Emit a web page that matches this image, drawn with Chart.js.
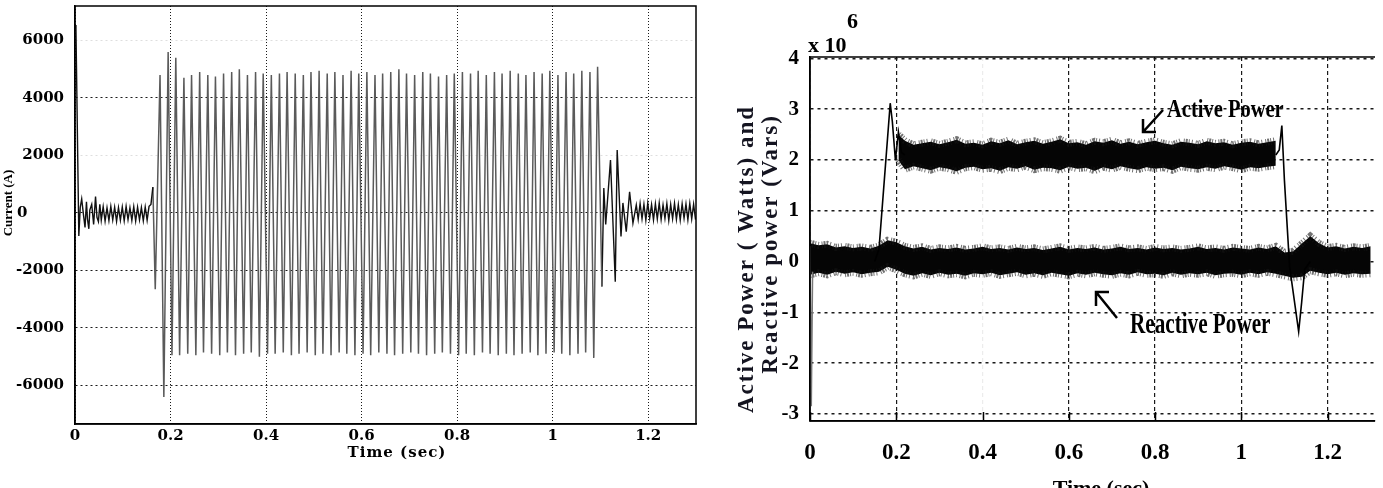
<!DOCTYPE html>
<html>
<head>
<meta charset="utf-8">
<script src="https://cdn.jsdelivr.net/npm/chart.js@4.4.1/dist/chart.umd.min.js"></script>
<style>
  html, body { margin: 0; padding: 0; background: #fff; }
  body { width: 1383px; height: 488px; position: relative; overflow: hidden; }
  .panel { position: absolute; top: 0; }
  #currentPanel { left: 0; }
  #powerPanel { left: 700px; }
</style>
</head>
<body>
<div class="panel" id="currentPanel"><canvas id="currentChart" width="700" height="488"></canvas></div>
<div class="panel" id="powerPanel"><canvas id="powerChart" width="683" height="488"></canvas></div>
<script>
// ---- left panel: fault current (A) ----
const preFaultTime = [
    0.000, 0.002, 0.008, 0.011, 0.014, 0.018, 0.021, 0.024, 0.026, 0.029,
    0.031, 0.035, 0.039, 0.043, 0.046, 0.049, 0.052, 0.055, 0.059, 0.063,
    0.067, 0.071, 0.075, 0.079, 0.083, 0.087, 0.091, 0.095, 0.099, 0.103,
    0.107, 0.111, 0.115, 0.119, 0.123, 0.127, 0.131, 0.135, 0.139, 0.143,
    0.147, 0.151, 0.155, 0.159, 0.163
];
const preFaultAmp = [
    6540, 6400, -800, 200, 490, -100, -500, 390, -200, -550,
    100, 300, -400, 570, -150, -300, 300, -250, 220, -280,
    180, -260, 230, -240, 200, -290, 190, -250, 210, -270,
    230, -230, 180, -260, 220, -280, 200, -240, 190, -270,
    210, -250, 230, 300, 900
];
const faultTime = [
    0.163, 0.168, 0.178, 0.186, 0.195, 0.203,
    0.211, 0.219, 0.228, 0.236, 0.244, 0.253, 0.261, 0.269, 0.278, 0.286, 0.294, 0.303,
    0.311, 0.319, 0.328, 0.336, 0.344, 0.353, 0.361, 0.369, 0.378, 0.386, 0.394, 0.403,
    0.411, 0.419, 0.428, 0.436, 0.444, 0.453, 0.461, 0.469, 0.478, 0.486, 0.494, 0.503,
    0.511, 0.519, 0.528, 0.536, 0.544, 0.553, 0.561, 0.569, 0.578, 0.586, 0.594, 0.603,
    0.611, 0.619, 0.628, 0.636, 0.644, 0.653, 0.661, 0.669, 0.678, 0.686, 0.694, 0.703,
    0.711, 0.719, 0.728, 0.736, 0.744, 0.753, 0.761, 0.769, 0.778, 0.786, 0.794, 0.803,
    0.811, 0.819, 0.828, 0.836, 0.844, 0.853, 0.861, 0.869, 0.878, 0.886, 0.894, 0.903,
    0.911, 0.919, 0.928, 0.936, 0.944, 0.953, 0.961, 0.969, 0.978, 0.986, 0.994, 1.003,
    1.011, 1.019, 1.028, 1.036, 1.044, 1.053, 1.061, 1.069, 1.078, 1.086, 1.094, 1.103
];
const faultAmp = [
    900, -2650, 4800, -6400, 5600, -4950,
    5400, -4950, 4700, -4900, 4800, -4950, 4900, -4850, 4800, -4900, 4750, -4950,
    4850, -4850, 4900, -4950, 5000, -4900, 4800, -4850, 4900, -5000, 4850, -4900,
    4800, -4900, 4850, -4850, 4900, -4950, 4850, -4900, 4800, -4850, 4900, -4950,
    4950, -4900, 4850, -4950, 4900, -4850, 4800, -4900, 4950, -4950, 4850, -4900,
    4900, -4950, 4800, -4850, 4850, -4900, 4900, -4950, 5000, -4900, 4850, -4850,
    4800, -4900, 4900, -4950, 4850, -4900, 4750, -4850, 4800, -4900, 4850, -4950,
    4900, -4900, 4850, -4950, 4950, -4850, 4800, -4900, 4900, -4950, 4850, -4900,
    4950, -4950, 4850, -4900, 4800, -4850, 4900, -4950, 4850, -4900, 4950, -4850,
    4800, -4900, 4900, -4950, 4850, -4900, 4950, -4850, 4900, -5040, 5090, -2560
];
const postFaultTime = [
    1.103, 1.107, 1.111, 1.121, 1.131, 1.135, 1.143, 1.147, 1.154, 1.161,
    1.168, 1.175, 1.179, 1.183, 1.187, 1.191, 1.195, 1.199, 1.203, 1.207,
    1.211, 1.215, 1.219, 1.223, 1.227, 1.231, 1.235, 1.239, 1.243, 1.247,
    1.251, 1.255, 1.259, 1.263, 1.267, 1.271, 1.275, 1.279, 1.283, 1.287,
    1.291, 1.295, 1.299
];
const postFaultAmp = [
    -2560, 870, -400, 1840, -2390, 2190, -820, 350, -650, 740,
    -350, 280, -220, 330, -200, 300, -250, 340, -180, 290,
    -240, 320, -210, 350, -230, 280, -190, 330, -260, 300,
    -200, 340, -220, 290, -250, 320, -180, 310, -240, 330,
    -210, 300, -230
];
const currentTicksX = [0, 0.2, 0.4, 0.6, 0.8, 1, 1.2];
const currentTicksY = [-6000, -4000, -2000, 0, 2000, 4000, 6000];

// ---- right panel: power (x 10^6) ----
const activeRiseTime = [0.150, 0.160, 0.175, 0.186, 0.191, 0.198, 0.205, 0.212, 0.220];
const activeRise = [0.00, 0.25, 1.90, 3.12, 2.75, 2.00, 2.55, 2.15, 2.10];
const activeFallTime = [1.080, 1.088, 1.094, 1.100, 1.112, 1.133, 1.140, 1.147, 1.160];
const activeFall = [2.10, 2.20, 2.68, 1.60, -0.10, -1.38, -0.80, -0.15, 0.00];
const activeBandTime = [
    0.205, 0.22, 0.24, 0.26, 0.28, 0.30, 0.32, 0.34, 0.36, 0.38, 0.40,
    0.42, 0.44, 0.46, 0.48, 0.50, 0.52, 0.54, 0.56, 0.58, 0.60,
    0.62, 0.64, 0.66, 0.68, 0.70, 0.72, 0.74, 0.76, 0.78, 0.80,
    0.82, 0.84, 0.86, 0.88, 0.90, 0.92, 0.94, 0.96, 0.98, 1.00,
    1.02, 1.04, 1.06, 1.08
];
const activeBandTop = [
    2.50, 2.38, 2.30, 2.33, 2.36, 2.31, 2.35, 2.40, 2.32, 2.34, 2.30,
    2.37, 2.33, 2.39, 2.31, 2.35, 2.38, 2.32, 2.36, 2.41, 2.33,
    2.35, 2.30, 2.37, 2.34, 2.39, 2.32, 2.36, 2.31, 2.35, 2.38,
    2.33, 2.30, 2.36, 2.34, 2.31, 2.37, 2.33, 2.35, 2.30, 2.34,
    2.36, 2.32, 2.35, 2.38
];
const activeBandBottom = [
    2.00, 1.82, 1.88, 1.84, 1.80, 1.86, 1.83, 1.78, 1.85, 1.87, 1.82,
    1.84, 1.79, 1.86, 1.83, 1.88, 1.81, 1.85, 1.84, 1.80, 1.87,
    1.83, 1.85, 1.79, 1.86, 1.82, 1.88, 1.84, 1.81, 1.86, 1.83,
    1.85, 1.80, 1.87, 1.84, 1.82, 1.86, 1.83, 1.88, 1.85, 1.81,
    1.86, 1.84, 1.87, 1.89
];
const reactiveBandTime = [
    0.00, 0.02, 0.04, 0.06, 0.08, 0.10, 0.12, 0.14, 0.16, 0.18,
    0.20, 0.22, 0.24, 0.26, 0.28, 0.30, 0.32, 0.34, 0.36, 0.38,
    0.40, 0.42, 0.44, 0.46, 0.48, 0.50, 0.52, 0.54, 0.56, 0.58,
    0.60, 0.62, 0.64, 0.66, 0.68, 0.70, 0.72, 0.74, 0.76, 0.78,
    0.80, 0.82, 0.84, 0.86, 0.88, 0.90, 0.92, 0.94, 0.96, 0.98,
    1.00, 1.02, 1.04, 1.06, 1.08, 1.10, 1.12, 1.14, 1.16, 1.18,
    1.20, 1.22, 1.24, 1.26, 1.28, 1.30
];
const reactiveBandTop = [
    0.36, 0.32, 0.34, 0.28, 0.30, 0.27, 0.29, 0.26, 0.31, 0.42,
    0.38, 0.30, 0.26, 0.29, 0.24, 0.27, 0.25, 0.28, 0.24, 0.26,
    0.29, 0.25, 0.27, 0.24, 0.28, 0.25, 0.27, 0.23, 0.26, 0.29,
    0.24, 0.27, 0.25, 0.28, 0.24, 0.26, 0.29, 0.25, 0.27, 0.24,
    0.28, 0.25, 0.27, 0.24, 0.26, 0.29, 0.25, 0.27, 0.24, 0.28,
    0.26, 0.24, 0.28, 0.25, 0.30, 0.18, 0.20, 0.35, 0.50, 0.36,
    0.28, 0.30, 0.26, 0.29, 0.27, 0.30
];
const reactiveBandBottom = [
    -0.26, -0.22, -0.26, -0.20, -0.24, -0.21, -0.25, -0.22, -0.20, -0.10,
    -0.16, -0.24, -0.28, -0.23, -0.27, -0.22, -0.26, -0.24, -0.28, -0.23,
    -0.25, -0.22, -0.27, -0.24, -0.21, -0.26, -0.23, -0.27, -0.22, -0.25,
    -0.28, -0.23, -0.26, -0.22, -0.25, -0.27, -0.23, -0.26, -0.21, -0.25,
    -0.24, -0.27, -0.22, -0.26, -0.23, -0.25, -0.22, -0.27, -0.24, -0.23,
    -0.26, -0.22, -0.25, -0.21, -0.24, -0.28, -0.32, -0.30, -0.18, -0.22,
    -0.25, -0.22, -0.26, -0.23, -0.25, -0.24
];
const startSpikeTime = [0.000, 0.003, 0.006];
const startSpike = [0.30, -2.85, -0.20];
const powerTicksX = [0, 0.2, 0.4, 0.6, 0.8, 1, 1.2];
const powerTicksY = [-3, -2, -1, 0, 1, 2, 3, 4];

function toPoints(xs, ys) {
    return xs.map((x, i) => ({ x: x, y: ys[i] }));
}

function fixedTicks(values) {
    return scale => { scale.ticks = values.map(value => ({ value })); };
}

// stop chart.js from reserving room for half-labels at the axis ends
function fitTo(size) {
    return scale => {
        if (scale.isHorizontal()) {
            scale.height = size;
        } else {
            scale.width = size;
        }
        scale.paddingTop = 0;
        scale.paddingBottom = 0;
        scale.paddingLeft = 0;
        scale.paddingRight = 0;
    };
}

const nearly = (a, b) => Math.abs(a - b) < 1e-6;

// box, axis titles for the current plot
const currentDecor = {
    id: 'currentDecor',
    afterDraw(chart) {
        const { ctx, chartArea: a } = chart;
        ctx.save();
        ctx.strokeStyle = '#000';
        ctx.lineWidth = 1.5;
        ctx.strokeRect(a.left, a.top, a.right - a.left, a.bottom - a.top);

        ctx.fillStyle = '#000';
        ctx.textAlign = 'center';
        ctx.textBaseline = 'alphabetic';
        ctx.font = 'bold 15px "DejaVu Serif"';
        ctx.letterSpacing = '1px';
        ctx.fillText('Time (sec)', 397, 457);
        ctx.letterSpacing = '0px';

        ctx.translate(12, 203);
        ctx.rotate(-Math.PI / 2);
        ctx.font = 'bold 13px "Liberation Serif"';
        ctx.fillText('Current (A)', 0, 0);
        ctx.restore();
    }
};

// box, ticks, labels and arrows for the power plot
const powerDecor = {
    id: 'powerDecor',
    afterDraw(chart) {
        const { ctx, chartArea: a, scales: { x } } = chart;
        ctx.save();
        ctx.strokeStyle = '#000';
        ctx.lineWidth = 1.5;
        ctx.beginPath();
        ctx.moveTo(a.left, a.bottom);
        ctx.lineTo(a.left, a.top);
        ctx.lineTo(a.right, a.top);
        ctx.moveTo(a.left, a.bottom);
        ctx.lineTo(a.right, a.bottom);
        powerTicksX.forEach(v => {
            const px = Math.round(x.getPixelForValue(v)) + 0.5;
            ctx.moveTo(px, a.bottom);
            ctx.lineTo(px, a.bottom - 9);
        });
        ctx.stroke();

        ctx.fillStyle = '#000';
        ctx.textBaseline = 'alphabetic';
        ctx.textAlign = 'left';
        ctx.font = 'bold 22px "Liberation Serif"';
        ctx.fillText('x 10', 108, 52);
        ctx.fillText('6', 147, 28);

        ctx.textAlign = 'center';
        ctx.fillText('Time (sec)', 401, 495);

        // y axis title, two lines
        ctx.fillStyle = '#141420';
        ctx.font = 'bold 23px "Liberation Serif"';
        ctx.letterSpacing = '2px';
        ctx.save();
        ctx.translate(53, 259);
        ctx.rotate(-Math.PI / 2);
        ctx.fillText('Active Power ( Watts) and', 0, 0);
        ctx.restore();
        ctx.save();
        ctx.translate(77, 244);
        ctx.rotate(-Math.PI / 2);
        ctx.fillText('Reactive power (Vars)', 0, 0);
        ctx.restore();
        ctx.letterSpacing = '0px';

        // annotations
        ctx.fillStyle = '#000';
        ctx.textAlign = 'left';
        ctx.save();
        ctx.translate(467, 117);
        ctx.scale(0.82, 1);
        ctx.font = 'bold 25px "Liberation Serif"';
        ctx.fillText('Active Power', 0, 0);
        ctx.restore();
        ctx.save();
        ctx.translate(430, 333);
        ctx.scale(0.73, 1);
        ctx.font = 'bold 29px "Liberation Serif"';
        ctx.fillText('Reactive Power', 0, 0);
        ctx.restore();

        ctx.lineWidth = 2.5;
        ctx.beginPath();
        ctx.moveTo(463, 110);
        ctx.lineTo(443, 132);
        ctx.moveTo(443, 119);
        ctx.lineTo(443, 132);
        ctx.lineTo(456, 132);
        ctx.moveTo(417, 318);
        ctx.lineTo(396, 292);
        ctx.moveTo(409, 292);
        ctx.lineTo(396, 292);
        ctx.lineTo(396, 306);
        ctx.stroke();
        ctx.restore();
    }
};

new Chart(document.getElementById('currentChart').getContext('2d'), {
    type: 'line',
    data: {
        datasets: [
            {
                label: 'Current before fault',
                data: toPoints(preFaultTime, preFaultAmp),
                borderColor: '#111',
                borderWidth: 1.4,
                pointRadius: 0,
                fill: false
            },
            {
                label: 'Fault current',
                data: toPoints(faultTime, faultAmp),
                borderColor: '#5a5a5a',
                borderWidth: 1.5,
                pointRadius: 0,
                fill: false
            },
            {
                label: 'Current after fault',
                data: toPoints(postFaultTime, postFaultAmp),
                borderColor: '#111',
                borderWidth: 1.4,
                pointRadius: 0,
                fill: false
            }
        ]
    },
    options: {
        responsive: false,
        animation: false,
        events: [],
        layout: { padding: { left: 0, top: 6, right: 4, bottom: 0 } },
        plugins: { legend: { display: false }, tooltip: { enabled: false } },
        scales: {
            x: {
                type: 'linear',
                min: 0,
                max: 1.3,
                afterBuildTicks: fixedTicks(currentTicksX),
                afterFit: fitTo(64),
                grid: {
                    color: '#1a1a1a',
                    lineWidth: 1,
                    drawTicks: false
                },
                border: { display: true, color: '#000', width: 1.5, dash: [1, 2] },
                ticks: {
                    padding: 3,
                    autoSkip: false,
                    maxRotation: 0,
                    color: '#000',
                    font: { family: '"DejaVu Serif"', size: 15, weight: 'bold' },
                    callback: v => String(v)
                }
            },
            y: {
                type: 'linear',
                min: -7340,
                max: 7200,
                afterBuildTicks: fixedTicks(currentTicksY),
                afterFit: fitTo(75),
                grid: {
                    color: c => (c.tick && (c.tick.value === 2000 || c.tick.value === 6000)) ? '#dedede' : '#1a1a1a',
                    lineWidth: 1,
                    drawTicks: false
                },
                border: { display: true, color: '#000', width: 1.5, dash: [2, 3] },
                ticks: {
                    padding: 11,
                    color: '#000',
                    font: { family: '"DejaVu Serif"', size: 15, weight: 'bold' },
                    callback: v => v === 0 ? '0       ' : String(v)
                }
            }
        }
    },
    plugins: [currentDecor]
});

// noisy band edges: a thick dashed grey stroke reads as fine spikes
const bandEdge = 'rgba(20,20,20,0.6)';
const bandEdgeDash = [1, 1, 2, 1, 1, 2, 1, 3];

new Chart(document.getElementById('powerChart').getContext('2d'), {
    type: 'line',
    data: {
        datasets: [
            {
                label: 'Active rise',
                data: toPoints(activeRiseTime, activeRise),
                borderColor: '#000',
                borderWidth: 1.6,
                pointRadius: 0,
                fill: false
            },
            {
                label: 'Active fall',
                data: toPoints(activeFallTime, activeFall),
                borderColor: '#000',
                borderWidth: 1.6,
                pointRadius: 0,
                fill: false
            },
            {
                label: 'Start transient',
                data: toPoints(startSpikeTime, startSpike),
                borderColor: '#777',
                borderWidth: 1.5,
                pointRadius: 0,
                fill: false
            },
            {
                label: 'Active Power top',
                data: toPoints(activeBandTime, activeBandTop),
                borderColor: bandEdge,
                borderWidth: 7,
                borderDash: bandEdgeDash,
                pointRadius: 0,
                fill: false
            },
            {
                label: 'Active Power bottom',
                data: toPoints(activeBandTime, activeBandBottom),
                borderColor: bandEdge,
                borderWidth: 7,
                borderDash: bandEdgeDash,
                pointRadius: 0,
                backgroundColor: '#050505',
                fill: '-1'
            },
            {
                label: 'Reactive Power top',
                data: toPoints(reactiveBandTime, reactiveBandTop),
                borderColor: bandEdge,
                borderWidth: 7,
                borderDash: bandEdgeDash,
                pointRadius: 0,
                fill: false
            },
            {
                label: 'Reactive Power bottom',
                data: toPoints(reactiveBandTime, reactiveBandBottom),
                borderColor: bandEdge,
                borderWidth: 7,
                borderDash: bandEdgeDash,
                pointRadius: 0,
                backgroundColor: '#050505',
                fill: '-1'
            }
        ]
    },
    options: {
        responsive: false,
        animation: false,
        events: [],
        layout: { padding: { left: 0, top: 57, right: 8, bottom: 0 } },
        plugins: { legend: { display: false }, tooltip: { enabled: false } },
        scales: {
            x: {
                type: 'linear',
                min: 0,
                max: 1.31,
                afterBuildTicks: fixedTicks(powerTicksX),
                afterFit: fitTo(67),
                grid: {
                    color: c => (c.tick && nearly(c.tick.value, 0.4)) ? '#ececec' : '#1a1a1a',
                    lineWidth: 1.2,
                    drawTicks: false
                },
                border: { display: true, color: '#000', width: 1.5, dash: [4, 3] },
                ticks: {
                    padding: 18,
                    autoSkip: false,
                    maxRotation: 0,
                    color: '#000',
                    font: { family: '"Liberation Serif"', size: 23, weight: 'bold' },
                    callback: v => String(v)
                }
            },
            y: {
                type: 'linear',
                min: -3.14,
                max: 4.03,
                afterBuildTicks: fixedTicks(powerTicksY),
                afterFit: fitTo(110),
                grid: {
                    color: '#1a1a1a',
                    lineWidth: 1.6,
                    drawTicks: false
                },
                border: { display: true, color: '#000', width: 1.5, dash: [3, 4] },
                ticks: {
                    padding: 11,
                    color: '#000',
                    font: { family: '"Liberation Serif"', size: 21, weight: 'bold' },
                    callback: v => String(v)
                }
            }
        }
    },
    plugins: [powerDecor]
});
</script>
</body>
</html>
